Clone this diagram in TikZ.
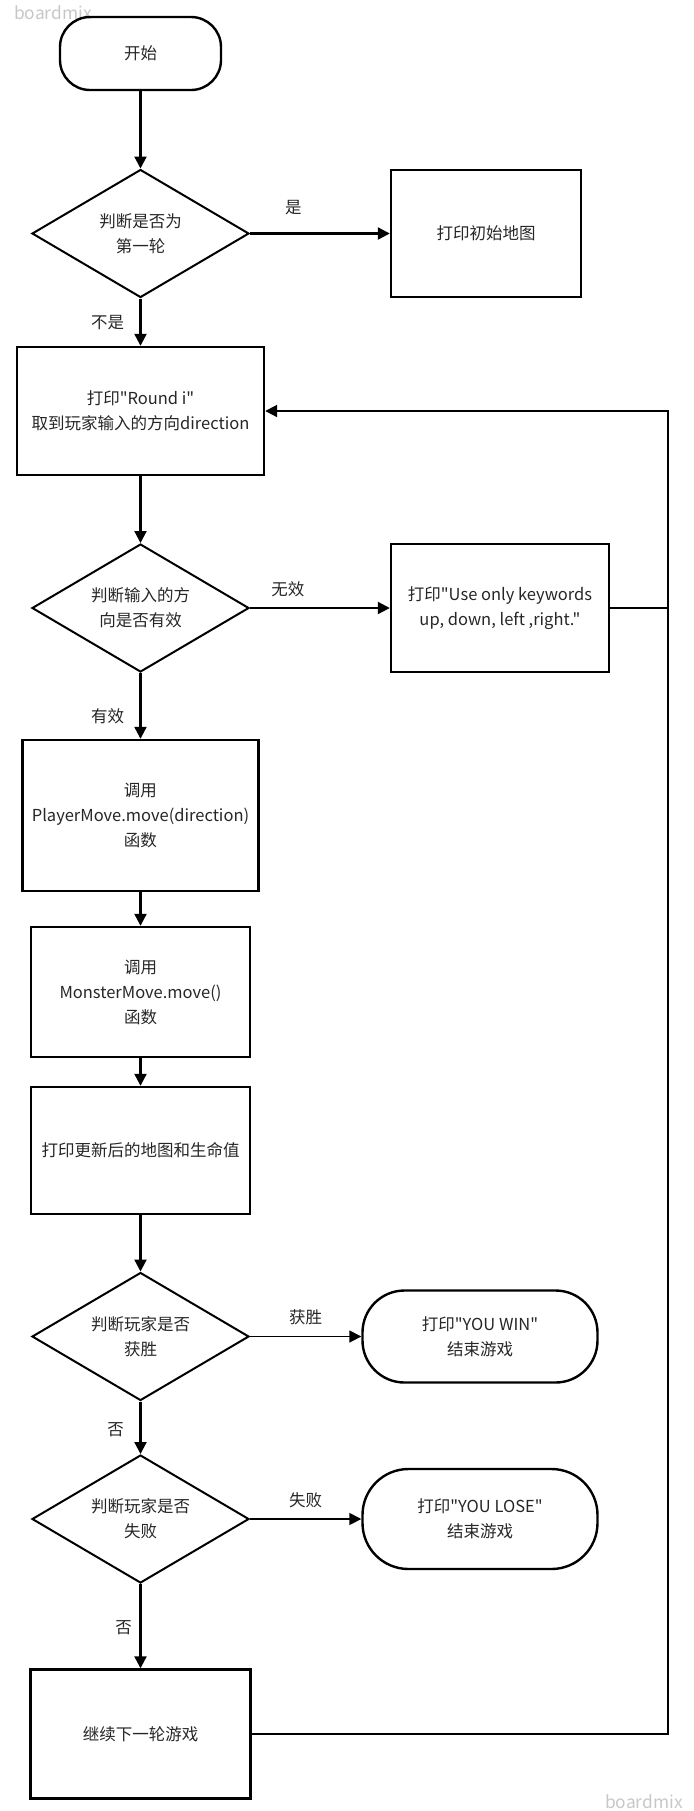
\documentclass[tikz,border=0pt]{standalone}
\usepackage{fontspec}
\newfontfamily\cjkfont{Noto Sans CJK SC}
\usetikzlibrary{shapes.geometric,arrows.meta}

\begin{document}
\begin{tikzpicture}[x=0.5pt,y=-0.5pt,
  font=\cjkfont\fontsize{8.25}{12.5}\selectfont,text=black!85,
  box/.style={draw,line width=1.2pt,inner sep=0pt,align=center},
  term/.style={box,rounded corners=#1},
  decide/.style={draw,diamond,aspect=1.7,line width=1pt,inner sep=0pt,align=center,
    minimum width=108.5pt,minimum height=64pt},
  flow/.style={line width=1.1pt,-{Triangle[length=6pt,width=6pt]}},
  thinflow/.style={line width=0.8pt,-{Triangle[length=6pt,width=6pt]}},
  back/.style={line width=1pt},
  lbl/.style={inner sep=0pt},
  wmark/.style={text=black!22,font=\cjkfont\fontsize{8.7}{10}\selectfont}]
  \useasboundingbox (0,0) rectangle (694,1811);

  % watermarks
  \node[wmark] (wm1) at (53,13) {boardmix};
  \node[wmark] (wm2) at (644,1802) {boardmix};

  % main column
  \node[term=15pt,minimum width=80.5pt,minimum height=36.5pt] (start) at (140.5,53.5) {开始};
  \node[decide] (d1) at (140.5,233.5) {判断是否为\\第一轮};
  \node[box,minimum width=95pt,minimum height=63.5pt] (initmap) at (486,233.5) {打印初始地图};
  \node[box,minimum width=123.5pt,minimum height=64pt] (round) at (140.5,411) {打印"Round i"\\取到玩家输入的方向direction};
  \node[decide] (d2) at (140.5,608) {判断输入的方\\向是否有效};
  \node[box,minimum width=109pt,minimum height=64pt] (useonly) at (500,608) {打印"Use only keywords\\up, down, left ,right."};
  \node[box,minimum width=118pt,minimum height=75.5pt] (player) at (140.5,815.5) {调用\\PlayerMove.move(direction)\\函数};
  \node[box,minimum width=109.5pt,minimum height=65pt] (monster) at (140.5,992) {调用\\MonsterMove.move()\\函数};
  \node[box,minimum width=109.5pt,minimum height=63.5pt] (update) at (140.5,1150.5) {打印更新后的地图和生命值};
  \node[decide] (d3) at (140.5,1336.5) {判断玩家是否\\获胜};
  \node[term=21pt,minimum width=117.5pt,minimum height=46pt] (win) at (480,1336.5) {打印"YOU WIN"\\结束游戏};
  \node[decide] (d4) at (140.5,1519) {判断玩家是否\\失败};
  \node[term=23pt,minimum width=117.5pt,minimum height=50pt] (lose) at (480,1519) {打印"YOU LOSE"\\结束游戏};
  \node[box,minimum width=110pt,minimum height=64.5pt] (cont) at (140.5,1734) {继续下一轮游戏};
  \coordinate (loop) at (668,1734);

  % arrows
  \draw[flow] (start) -- (d1);
  \draw[flow] (d1) -- node[lbl,pos=0.31,yshift=12.75pt] {是} (initmap);
  \draw[flow] (d1) -- node[lbl,pos=0.5,xshift=-16.5pt] {不是} (round);
  \draw[flow] (round) -- (d2);
  \draw[flow] (d2) -- node[lbl,pos=0.27,yshift=9.5pt] {无效} (useonly);
  \draw[flow] (d2) -- node[lbl,pos=0.66,xshift=-16.5pt] {有效} (player);
  \draw[flow] (player) -- (monster);
  \draw[flow] (monster) -- (update);
  \draw[flow] (update) -- (d3);
  \draw[thinflow] (d3) -- node[lbl,pos=0.5,yshift=9.75pt] {获胜} (win);
  \draw[flow] (d3) -- node[lbl,pos=0.54,xshift=-12.5pt] {否} (d4);
  \draw[thinflow] (d4) -- node[lbl,pos=0.5,yshift=9.5pt] {失败} (lose);
  \draw[flow] (d4) -- node[lbl,pos=0.52,xshift=-8.5pt] {否} (cont);

  % loop back
  \draw[back] (useonly) -- (useonly -| loop);
  \draw[flow,line width=1pt] (cont) -- (loop) |- (round);
\end{tikzpicture}
\end{document}
